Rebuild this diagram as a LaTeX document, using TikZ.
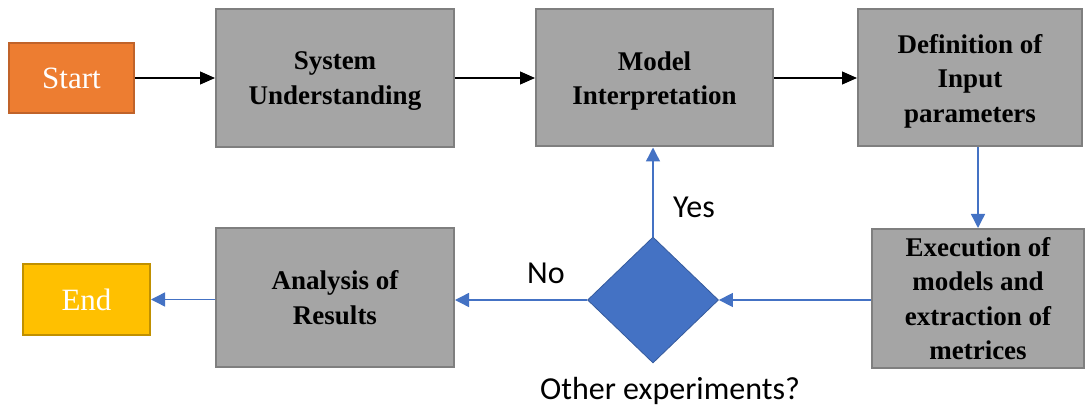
\documentclass[tikz,border=0pt]{standalone}
\usepackage{fontspec}
\setmainfont{Liberation Serif}
\newfontfamily\calib{Carlito}
\usetikzlibrary{arrows.meta,shapes.geometric}
\definecolor{grayfill}{HTML}{A5A5A5}
\definecolor{grayedge}{HTML}{7F7F7F}
\definecolor{orangefill}{HTML}{ED7D31}
\definecolor{orangeedge}{HTML}{C0632A}
\definecolor{goldfill}{HTML}{FFC000}
\definecolor{goldedge}{HTML}{C09000}
\definecolor{blu}{HTML}{4472C4}
\newcommand\nodepth[1]{\raisebox{0pt}[\height][0pt]{#1}}
\tikzset{
  procbox/.style={draw=grayedge, fill=grayfill, line width=2pt, inner sep=0pt, align=center,
    font=\fontsize{27pt}{34.5pt}\selectfont\bfseries},
  termbox/.style={line width=2pt, inner sep=0pt, text=white,
    font=\fontsize{31pt}{36pt}\selectfont},
  blackarrow/.style={draw=black, line width=1.2pt, -{Triangle[length=15pt,width=13pt]}},
  bluearrow/.style={draw=blu, line width=1.4pt, -{Triangle[length=14pt,width=14pt]}},
  lbl/.style={font=\calib\fontsize{32pt}{36pt}\selectfont, inner sep=0pt},
}
\begin{document}
\begin{tikzpicture}[x=1pt,y=-1pt]
\useasboundingbox (0,0) rectangle (1088,409);
\node[termbox, draw=orangeedge, fill=orangefill, minimum width=125pt, minimum height=70pt] (start) at (71.5,78) {Start};
\node[procbox, minimum width=238pt, minimum height=138pt] (su) at (335,78) {System\\\nodepth{Understanding}};
\node[procbox, minimum width=237pt, minimum height=137pt] (mi) at (654.5,78) {Model\\\nodepth{Interpretation}};
\node[procbox, minimum width=224pt, minimum height=137pt] (def) at (970,78) {Definition of\\Input\\\nodepth{parameters}};
\node[procbox, minimum width=212pt, minimum height=139pt] (ex) at (978,298.5) {Execution of\\models and\\extraction of\\metrices};
\node[shape=diamond, fill=blu, draw=blu!80!black, line width=0.8pt, inner sep=0pt, minimum width=131pt, minimum height=126pt] (dec) at (653,300) {};
\node[procbox, minimum width=238pt, minimum height=139pt] (an) at (335,297.5) {Analysis of\\Results};
\node[termbox, draw=goldedge, fill=goldfill, minimum width=127pt, minimum height=71pt] (end) at (86.5,299.5) {End};
\node[lbl] (yes) at (694,207) {Yes};
\node[lbl] (no) at (546,273) {No};
\node[lbl] (q) at (670,391) {Other experiments?};
\draw[blackarrow] (start.east) -- (su.west);
\draw[blackarrow] (su.east) -- (mi.west);
\draw[blackarrow] (mi.east) -- (def.west);
\draw[bluearrow] (def.south -| ex.north) -- (ex.north);
\draw[bluearrow] (ex.west |- dec.east) -- (dec.east);
\draw[bluearrow] (dec.north) -- (dec.north |- mi.south);
\draw[bluearrow] (dec.west) -- (dec.west -| an.east);
\draw[bluearrow] (an.west |- end.east) -- (end.east);
\end{tikzpicture}
\end{document}
